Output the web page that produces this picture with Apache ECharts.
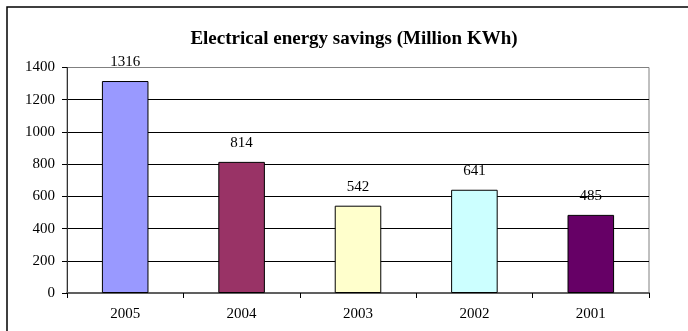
<!DOCTYPE html>
<html>
<head>
<meta charset="utf-8">
<script src="https://cdn.jsdelivr.net/npm/echarts@6/dist/echarts.min.js"></script>
<style>
html,body{margin:0;padding:0;background:#fff;}
#chart{width:688px;height:331px;}
</style>
</head>
<body>
<div id="chart"></div>
<script>
const titleText = 'Electrical energy savings (Million KWh)';
const categories = ['2005', '2004', '2003', '2002', '2001'];
const savings = [1316, 814, 542, 641, 485];
const barColors = ['#9999FF', '#993366', '#FFFFCC', '#CCFFFF', '#660066'];

const chart = echarts.init(document.getElementById('chart'), null, {renderer: 'canvas'});
const serif = '"Liberation Serif", "Times New Roman", serif';
chart.setOption({
  backgroundColor: '#ffffff',
  animation: false,
  title: {
    text: titleText,
    left: 349, top: 25, textAlign: 'center',
    textStyle: {fontFamily: serif, fontWeight: 'bold', fontSize: 19, color: '#000'}
  },
  graphic: [{
    type: 'rect', silent: true, z: 100,
    shape: {x: 7, y: 7, width: 720, height: 360},
    style: {fill: 'none', stroke: '#000', lineWidth: 1.5}
  }],
  grid: {left: 67, right: 39, top: 67.5, bottom: 38, show: true, borderColor: '#808080', borderWidth: 1, backgroundColor: '#fff'},
  xAxis: {
    type: 'category', data: categories,
    axisLine: {lineStyle: {color: '#606060', width: 2}},
    axisTick: {show: true, alignWithLabel: false, length: 5, lineStyle: {color: '#000'}},
    axisLabel: {fontFamily: serif, fontSize: 15, color: '#000', margin: 14}
  },
  yAxis: {
    type: 'value', min: 0, max: 1400, interval: 200,
    axisLine: {show: true, lineStyle: {color: '#333', width: 1}},
    axisTick: {show: true, length: 5, lineStyle: {color: '#000'}},
    axisLabel: {fontFamily: serif, fontSize: 15, color: '#000', margin: 12, formatter: v => String(v)},
    splitLine: {show: true, lineStyle: {color: ['#000','#000','#000','#000','#000','#000','#000','#808080'], width: 1}}
  },
  series: [{
    type: 'bar',
    data: savings.map((v, i) => ({value: v, itemStyle: {color: barColors[i]}})),
    barWidth: '40%',
    itemStyle: {borderColor: '#000', borderWidth: 1},
    label: {show: true, position: 'top', distance: 11, fontFamily: serif, fontSize: 15, color: '#000'}
  }]
});
</script>
</body>
</html>
